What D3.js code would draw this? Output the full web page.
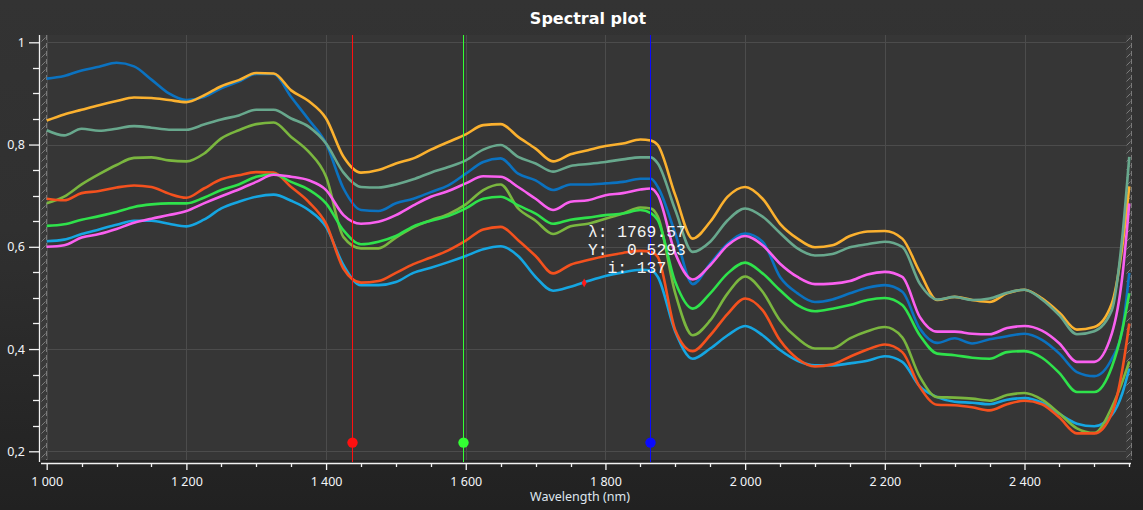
<!DOCTYPE html>
<html>
<head>
<meta charset="utf-8">
<script src="https://cdn.jsdelivr.net/npm/d3@7"></script>
<style>
  html, body { margin: 0; padding: 0; background: #2b2b2b; }
  svg { display: block; }
  .tick text { fill: #f2f4f8; font-family: "Noto Sans", sans-serif; font-size: 12.5px; }
</style>
</head>
<body>
<svg width="1143" height="510"></svg>
<script>
// wavelengths (nm) shared by all spectra
const wavelengths = [1000,1025,1050,1075,1100,1125,1150,1175,1200,1225,1250,1275,1300,1325,1350,1375,1400,1425,1450,1475,1500,
  1525,1550,1575,1600,1625,1650,1675,1700,1725,1750,1775,1800,1825,1850,1865,1875,
  1900,1925,1950,1975,2000,2025,2050,2075,2100,2125,2150,2175,2200,2225,2250,2275,2300,2325,2350,2375,2400,2425,2450,2475,2500,2525,2540,2550];

// reflectance of each spectrum
const darkBlue = [.929,.934,.945,.952,.960,.953,.927,.900,.887,.893,.910,.923,.938,.938,.893,.849,.802,.714,.672,.670,.685,
  .694,.707,.720,.743,.766,.773,.743,.730,.711,.722,.722,.724,.727,.733,.733,.717,
  .626,.527,.567,.606,.626,.610,.541,.509,.492,.497,.509,.520,.525,.512,.440,.412,.421,.411,.419,.425,.430,.418,.391,.355,.347,.381,.437,.549];
const orange = [.847,.859,.868,.877,.885,.892,.891,.887,.883,.896,.914,.926,.940,.939,.906,.885,.851,.776,.745,.750,.763,
  .773,.790,.805,.820,.838,.840,.815,.792,.767,.781,.789,.797,.802,.810,.808,.799,
  .701,.616,.649,.698,.717,.694,.645,.616,.599,.603,.621,.630,.631,.616,.551,.496,.502,.496,.492,.509,.516,.499,.471,.438,.443,.489,.600,.718];
const teal = [.828,.818,.831,.827,.831,.836,.833,.829,.829,.839,.849,.857,.868,.868,.851,.835,.802,.745,.717,.716,.722,
  .732,.745,.756,.769,.790,.799,.776,.763,.747,.758,.762,.766,.771,.775,.775,.763,
  .672,.590,.610,.652,.675,.659,.627,.597,.583,.586,.599,.605,.610,.600,.528,.497,.502,.496,.499,.510,.516,.497,.466,.429,.435,.476,.619,.776];
const cyan = [.611,.614,.625,.634,.643,.651,.651,.645,.640,.653,.675,.688,.698,.702,.690,.672,.639,.564,.525,.525,.531,
  .549,.559,.570,.582,.595,.601,.582,.541,.514,.522,.533,.543,.550,.555,.554,.541,
  .434,.381,.401,.427,.445,.427,.398,.377,.368,.368,.372,.377,.386,.375,.327,.306,.297,.295,.292,.301,.304,.295,.273,.254,.249,.271,.313,.362];
const yellowGreen = [.685,.698,.722,.742,.760,.774,.775,.769,.767,.782,.812,.828,.840,.843,.815,.786,.737,.619,.597,.597,.618,
  .638,.652,.664,.683,.711,.722,.675,.651,.625,.640,.645,.655,.665,.677,.675,.659,
  .509,.427,.456,.509,.542,.512,.456,.421,.401,.401,.421,.435,.443,.423,.346,.306,.305,.303,.299,.310,.314,.301,.274,.245,.236,.286,.336,.376];
const redOrange = [.694,.691,.705,.709,.716,.720,.717,.704,.696,.714,.732,.740,.746,.745,.717,.688,.645,.557,.530,.533,.549,
  .566,.579,.593,.612,.634,.639,.613,.582,.548,.565,.574,.582,.588,.592,.590,.580,
  .437,.396,.427,.469,.499,.476,.417,.381,.366,.370,.385,.399,.409,.394,.326,.291,.290,.286,.280,.292,.299,.292,.266,.235,.235,.274,.359,.450];
const green = [.641,.644,.653,.660,.668,.678,.683,.685,.685,.696,.711,.722,.737,.742,.727,.712,.685,.632,.605,.610,.621,
  .640,.651,.660,.675,.694,.698,.681,.665,.645,.653,.657,.662,.665,.672,.666,.652,
  .531,.479,.509,.548,.569,.548,.515,.486,.474,.479,.486,.496,.500,.486,.427,.391,.388,.383,.381,.394,.396,.383,.353,.316,.316,.365,.437,.509];
const magenta = [.600,.603,.618,.625,.635,.647,.655,.662,.670,.685,.699,.712,.727,.741,.737,.730,.711,.662,.645,.649,.662,
  .681,.698,.709,.724,.738,.737,.717,.694,.672,.688,.691,.701,.705,.712,.714,.701,
  .587,.536,.564,.603,.621,.603,.567,.541,.527,.528,.533,.546,.551,.541,.463,.434,.434,.430,.429,.441,.445,.436,.411,.375,.375,.430,.541,.685];

const spectra = [darkBlue, orange, teal, cyan, yellowGreen, redOrange, green, magenta];
const spectraColors = ["#0b72c0", "#fbb12f", "#68a88d", "#15a6e2", "#7ab63f", "#f4511e", "#2fe24b", "#fa60f0"];

// cursor markers
const cursorWavelengths = [1437, 1596, 1864];
const cursorColors = ["#ff1010", "#33ff33", "#0a0aff"];
const cursorLevel = 0.217;

// hover readout
const hoverWavelength = 1769.57;
const hoverValue = 0.5293;
const hoverIndex = 137;

const xMajor = d3.range(1000, 2401, 200);
const xMinor = d3.range(1000, 2551, 50).filter(d => d % 200 !== 0);
const yMajor = [0.2, 0.4, 0.6, 0.8, 1];
const yMinor = d3.range(0.25, 1.0, 0.05).map(d => +d.toFixed(2)).filter(d => Math.abs(d * 5 - Math.round(d * 5)) > 1e-6);

const svg = d3.select("svg");
const W = 1143, H = 510;
const plot = { left: 41, right: 1131, top: 35, bottom: 460 };

const x = d3.scaleLinear().domain([1000, 2400]).range([46.7, 1024.5]);
const y = d3.scaleLinear().domain([0.2, 1]).range([451.3, 42.3]);

// background
const defs = svg.append("defs");
const bg = defs.append("linearGradient").attr("id", "bg").attr("x1", 0).attr("y1", 0).attr("x2", 0).attr("y2", 1);
bg.append("stop").attr("offset", "0%").attr("stop-color", "#333333");
bg.append("stop").attr("offset", "45%").attr("stop-color", "#303030");
bg.append("stop").attr("offset", "100%").attr("stop-color", "#212121");
svg.append("rect").attr("width", W).attr("height", H).attr("fill", "url(#bg)");

const hatch = defs.append("pattern").attr("id", "hatch").attr("patternUnits", "userSpaceOnUse")
  .attr("width", 7).attr("height", 8);
hatch.append("rect").attr("width", 7).attr("height", 8).attr("fill", "#3a3a3a");
hatch.append("line").attr("x1", 0.5).attr("y1", 6.5).attr("x2", 4.5).attr("y2", 2.5)
  .attr("stroke", "#8a8a8a").attr("stroke-width", 0.8);
hatch.append("line").attr("x1", 5.5).attr("y1", 0).attr("x2", 5.5).attr("y2", 5)
  .attr("stroke", "#8a8a8a").attr("stroke-width", 0.8);

// plot area
svg.append("rect").attr("x", plot.left).attr("y", plot.top)
  .attr("width", plot.right - plot.left).attr("height", plot.bottom - plot.top)
  .attr("fill", "#363636");

// grid
const grid = svg.append("g").attr("stroke", "#4c4c4c").attr("stroke-width", 1);
grid.selectAll(".gx").data(xMajor).join("line")
  .attr("x1", d => Math.round(x(d)) + 0.5).attr("x2", d => Math.round(x(d)) + 0.5)
  .attr("y1", plot.top).attr("y2", plot.bottom);
grid.selectAll(".gy").data(yMajor).join("line")
  .attr("y1", d => Math.round(y(d)) + 0.5).attr("y2", d => Math.round(y(d)) + 0.5)
  .attr("x1", plot.left).attr("x2", plot.right);

// hatched range strips on both sides
svg.append("g").attr("transform", `translate(${plot.left},${plot.top})`)
  .append("rect").attr("width", 6).attr("height", plot.bottom - plot.top).attr("fill", "url(#hatch)");
svg.append("g").attr("transform", `translate(${plot.right - 5},${plot.top})`)
  .append("rect").attr("width", 6).attr("height", plot.bottom - plot.top).attr("fill", "url(#hatch)");

// spectra
const line = d3.line()
  .x((d, i) => x(wavelengths[i]))
  .y(d => y(d))
  .curve(d3.curveMonotoneX);

svg.append("g").selectAll("path").data(spectra).join("path")
  .attr("d", d => line(d))
  .attr("fill", "none")
  .attr("stroke", (d, i) => spectraColors[i])
  .attr("stroke-width", 2.6)
  .attr("stroke-linejoin", "round");

// cursors
const cur = svg.append("g");
cur.selectAll("line").data(cursorWavelengths).join("line")
  .attr("x1", d => Math.round(x(d)) + 0.5).attr("x2", d => Math.round(x(d)) + 0.5)
  .attr("y1", plot.top).attr("y2", plot.bottom + 2)
  .attr("stroke", (d, i) => cursorColors[i]).attr("stroke-width", 1)
  .attr("shape-rendering", "crispEdges");
cur.selectAll("circle").data(cursorWavelengths).join("circle")
  .attr("cx", d => Math.round(x(d)) + 0.5).attr("cy", y(cursorLevel)).attr("r", 5.2)
  .attr("fill", (d, i) => cursorColors[i]);

// hover point + readout
svg.append("path")
  .attr("d", d3.symbol(d3.symbolDiamond, 22)())
  .attr("transform", `translate(${x(hoverWavelength)},${y(hoverValue)})`)
  .attr("fill", "#ff1a1a");

const readout = svg.append("text")
  .attr("font-family", "'Liberation Mono', 'DejaVu Sans Mono', monospace")
  .attr("font-size", 16.3).attr("fill", "#f4f4f4")
  .attr("xml:space", "preserve").style("white-space", "pre");
const rx = 588;
[`λ: ${hoverWavelength.toFixed(2)}`, `Y:  ${hoverValue.toFixed(4)}`, `  i: ${hoverIndex}`].forEach((t, i) => {
  readout.append("tspan").attr("x", rx).attr("y", 237 + i * 18.2).text(t);
});

// axes
const fmtY = d => String(+d.toFixed(2)).replace(".", ",");
const fmtX = d => d3.format(",")(d).replace(/,/g, " ");

const yAxis = svg.append("g").attr("transform", "translate(39,0)")
  .call(d3.axisLeft(y).tickValues(yMajor).tickSize(10).tickSizeOuter(0).tickPadding(4).tickFormat(fmtY));
yAxis.select(".domain").remove();
yAxis.selectAll(".minor").data(yMinor).join("line")
  .attr("x1", -6).attr("x2", 0).attr("y1", d => Math.round(y(d)) + 0.5).attr("y2", d => Math.round(y(d)) + 0.5);
yAxis.append("line").attr("x1", 0.5).attr("x2", 0.5).attr("y1", plot.top).attr("y2", plot.bottom + 2);
yAxis.selectAll("line").attr("stroke", "#f2f2f2").attr("stroke-width", 1.3);

const xAxis = svg.append("g").attr("transform", "translate(0,463)")
  .call(d3.axisBottom(x).tickValues(xMajor).tickSize(7).tickSizeOuter(0).tickPadding(7).tickFormat(fmtX));
xAxis.select(".domain").remove();
xAxis.selectAll(".minor").data(xMinor).join("line")
  .attr("x1", d => Math.round(x(d)) + 0.5).attr("x2", d => Math.round(x(d)) + 0.5).attr("y1", 0).attr("y2", 4);
xAxis.append("line").attr("x1", plot.left).attr("x2", plot.right).attr("y1", 0.5).attr("y2", 0.5);
xAxis.selectAll("line").attr("stroke", "#f2f2f2").attr("stroke-width", 1.3);

svg.append("text")
  .attr("x", 580).attr("y", 501).attr("text-anchor", "middle")
  .attr("font-family", "'Noto Sans', sans-serif").attr("font-size", 12.5).attr("fill", "#dfe6ee")
  .text("Wavelength (nm)");

// title
svg.append("text")
  .attr("x", 588).attr("y", 24).attr("text-anchor", "middle")
  .attr("font-family", "'DejaVu Sans', sans-serif").attr("font-weight", "bold")
  .attr("font-size", 16).attr("fill", "#ffffff")
  .text("Spectral plot");
</script>
</body>
</html>
